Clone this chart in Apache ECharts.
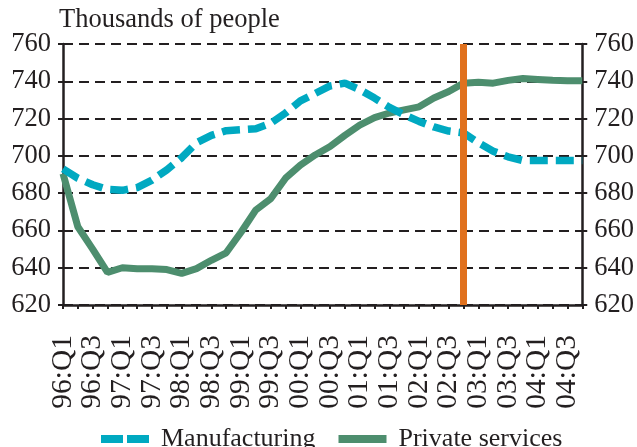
<!DOCTYPE html>
<html>
<head>
<meta charset="utf-8">
<script src="https://cdn.jsdelivr.net/npm/echarts@6/dist/echarts.min.js"></script>
<style>
html,body{margin:0;padding:0;background:#fff;}
#chart{width:637px;height:447px;}
</style>
</head>
<body>
<div id="chart"></div>
<script>
var categories = ['96:Q1','96:Q2','96:Q3','96:Q4','97:Q1','97:Q2','97:Q3','97:Q4',
  '98:Q1','98:Q2','98:Q3','98:Q4','99:Q1','99:Q2','99:Q3','99:Q4',
  '00:Q1','00:Q2','00:Q3','00:Q4','01:Q1','01:Q2','01:Q3','01:Q4',
  '02:Q1','02:Q2','02:Q3','02:Q4','03:Q1','03:Q2','03:Q3','03:Q4',
  '04:Q1','04:Q2','04:Q3','04:Q4'];
var manufacturing = [693,688,684.5,682,681.5,683,687,692.5,
  699,707,711,713.5,714,714.5,717.5,723,
  729.5,733.5,737.5,739,735.5,731,726,722,
  718.5,715.5,713.3,712.3,707,702.5,699.5,697.5,
  697.5,697.5,697.5,697.5];
var privateServices = [690.5,662,650,637.5,640,639.5,639.5,639,
  637,639.5,644,648,659,671,677,688,
  695,700.5,705,711,716.5,720.5,723,724.7,
  726.3,731,734.5,739,739.5,739,740.5,741.5,
  741,740.5,740.3,740.3];
var seriesNames = ['Manufacturing','Private services'];
var yTitle = 'Thousands of people';
var markerCategory = '02:Q4';
var yMin = 620, yMax = 760, yStep = 20;

var FONT = '"Liberation Serif", "DejaVu Serif", serif';
var INK = '#231f20';
var CYAN = '#00a9c1';
var GREEN = '#4d8e6e';
var ORANGE = '#e0711e';

var chart = echarts.init(document.getElementById('chart'), null, {renderer:'canvas'});
var yAxisBase = function(pos){
  return {
    type:'value', position:pos, min:yMin, max:yMax, interval:yStep,
    axisLine:{show:true, lineStyle:{color:INK, width:2.5}},
    axisTick:{show:true, inside:false, length:5, lineStyle:{color:INK, width:2}},
    axisLabel:{color:INK, fontFamily:FONT, fontSize:26.5, margin:12},
    splitLine:{show: pos==='left', lineStyle:{color:INK, width:2.2, type:[10,6]}}
  };
};
chart.setOption({
  animation:false,
  grid:{left:63, right:54, top:44, bottom:142, containLabel:false},
  graphic:[{type:'text', left:59, top:7, style:{text:yTitle, font:'26.5px '+FONT, fill:INK}}],
  legend:{
    left:96, top:421, itemGap:23, itemWidth:48, itemHeight:8, selectedMode:false,
    textStyle:{color:INK, fontFamily:FONT, fontSize:26, padding:[0,0,0,7]},
    data:[
      {name:seriesNames[0], icon:'path://M0,0H22V8H0Z M26,0H48V8H26Z', itemStyle:{color:CYAN}},
      {name:seriesNames[1], icon:'rect', itemStyle:{color:GREEN}}
    ]
  },
  xAxis:{
    type:'category', data:categories, boundaryGap:false,
    axisLine:{show:true, onZero:false, lineStyle:{color:INK, width:2.5}},
    axisTick:{show:true, inside:false, length:4, interval:0, lineStyle:{color:INK, width:2}},
    axisLabel:{interval:0, rotate:90, color:INK, fontFamily:FONT, fontSize:29.5, margin:30,
      showMinLabel:true, showMaxLabel:true, hideOverlap:false,
      formatter:function(v, i){ return i % 2 === 0 ? v : ''; }},
    splitLine:{show:false}
  },
  yAxis:[yAxisBase('left'), yAxisBase('right')],
  series:[
    {name:seriesNames[0], type:'line', data:manufacturing, symbol:'none', z:3,
     lineStyle:{color:CYAN, width:7.5, type:[18,8]}, itemStyle:{color:CYAN}},
    {name:seriesNames[1], type:'line', data:privateServices, symbol:'none', z:2,
     lineStyle:{color:GREEN, width:7}, itemStyle:{color:GREEN},
     markLine:{silent:true, symbol:['none','none'], label:{show:false}, z:10,
       lineStyle:{color:ORANGE, width:7, type:'solid'},
       data:[{xAxis:markerCategory}]}}
  ]
});
</script>
</body>
</html>
